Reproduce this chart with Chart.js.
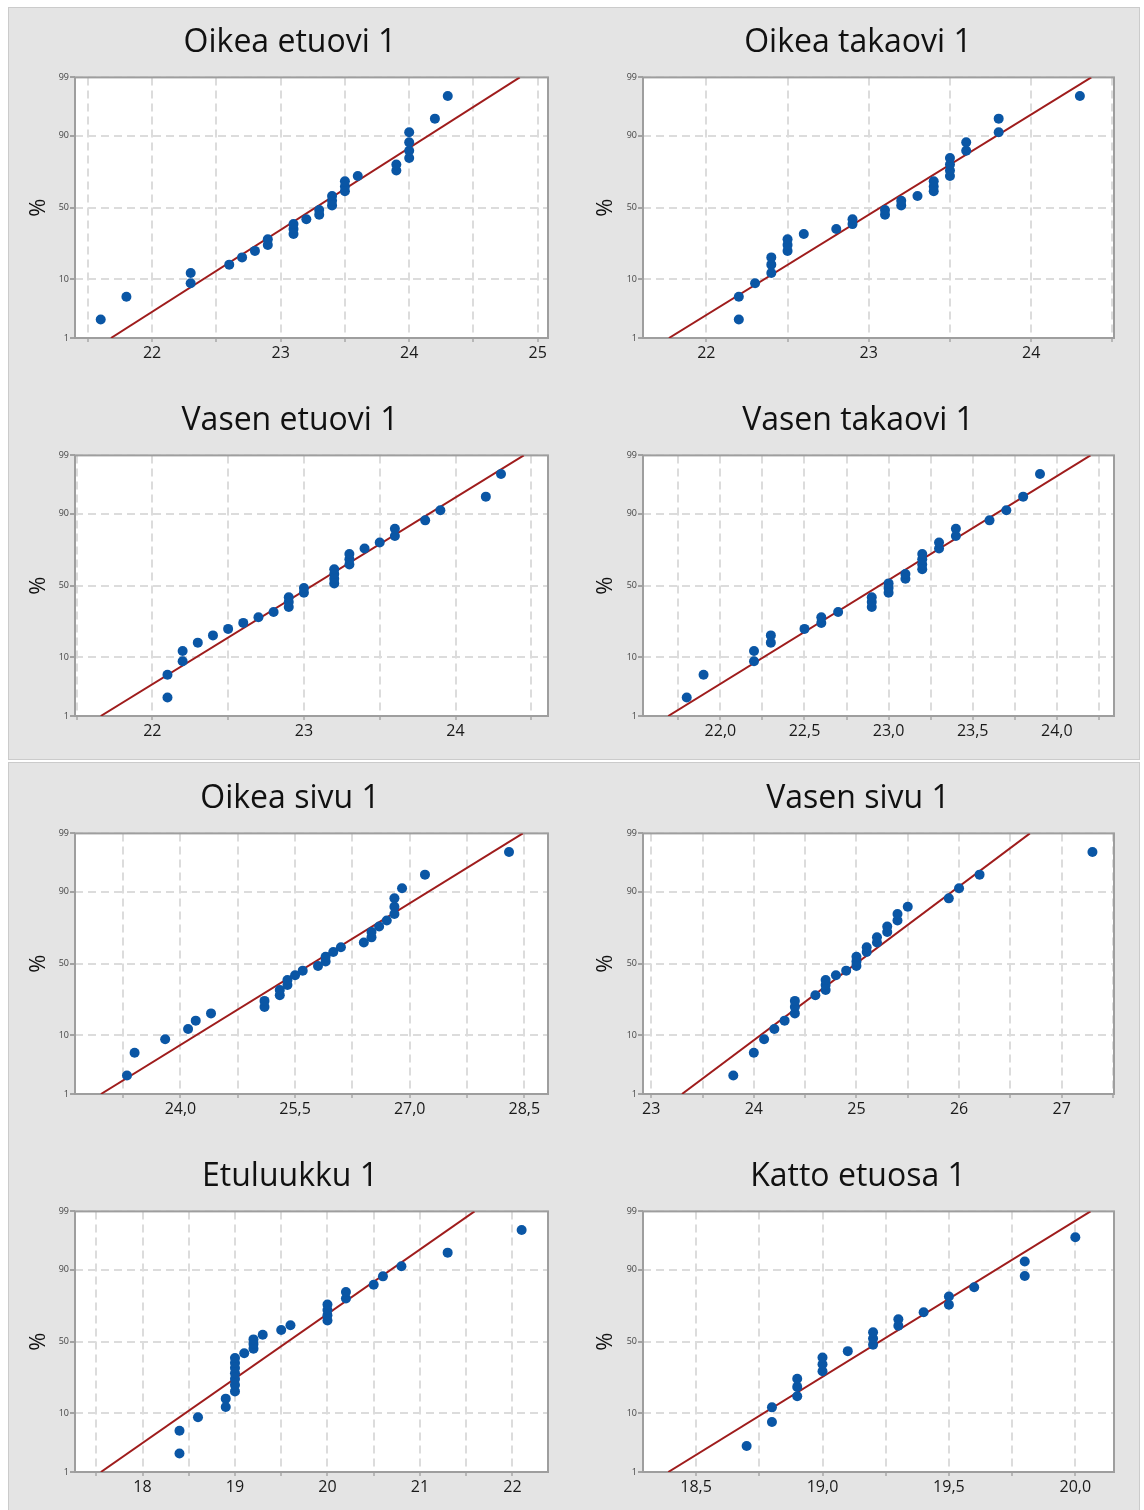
<!DOCTYPE html>
<html>
<head>
<meta charset="utf-8">
<script src="https://cdn.jsdelivr.net/npm/chart.js@4.4.1/dist/chart.umd.min.js"></script>
<style>
  body { margin: 0; background: #fff; width: 1144px; height: 1510px; position: relative; overflow: hidden; }
  .panel { position: absolute; left: 8px; width: 1132px; background: #e4e4e4; border: 1px solid #cbcbcb; box-sizing: border-box; }
  canvas { position: absolute; }
</style>
</head>
<body>
<div class="panel" style="top:7px;height:753px"></div>
<div class="panel" style="top:762px;height:760px"></div>
<script>
const titles = ['Oikea etuovi 1', 'Oikea takaovi 1', 'Vasen etuovi 1', 'Vasen takaovi 1',
  'Oikea sivu 1', 'Vasen sivu 1', 'Etuluukku 1', 'Katto etuosa 1'];

// plotting positions (%) of the sorted measurements, 30 and 22 samples
const pct30 = [2.30, 5.59, 8.88, 12.17, 15.46, 18.75, 22.04, 25.33, 28.62, 31.91,
  35.20, 38.49, 41.78, 45.07, 48.36, 51.64, 54.93, 58.22, 61.51, 64.80,
  68.09, 71.38, 74.67, 77.96, 81.25, 84.54, 87.83, 91.12, 94.41, 97.70];
const pct22 = [3.13, 7.59, 12.05, 16.52, 20.98, 25.45, 29.91, 34.38, 38.84, 43.30, 47.77,
  52.23, 56.70, 61.16, 65.63, 70.09, 74.55, 79.02, 83.48, 87.95, 92.41, 96.88];

const oikeaEtuovi = [21.6, 21.8, 22.3, 22.3, 22.6, 22.7, 22.8, 22.9, 22.9, 23.1, 23.1, 23.1, 23.2, 23.3, 23.3,
  23.4, 23.4, 23.4, 23.5, 23.5, 23.5, 23.6, 23.9, 23.9, 24.0, 24.0, 24.0, 24.0, 24.2, 24.3];
const oikeaTakaovi = [22.2, 22.2, 22.3, 22.4, 22.4, 22.4, 22.5, 22.5, 22.5, 22.6, 22.8, 22.9, 22.9, 23.1, 23.1,
  23.2, 23.2, 23.3, 23.4, 23.4, 23.4, 23.5, 23.5, 23.5, 23.5, 23.6, 23.6, 23.8, 23.8, 24.3];
const vasenEtuovi = [22.1, 22.1, 22.2, 22.2, 22.3, 22.4, 22.5, 22.6, 22.7, 22.8, 22.9, 22.9, 22.9, 23.0, 23.0,
  23.2, 23.2, 23.2, 23.2, 23.3, 23.3, 23.3, 23.4, 23.5, 23.6, 23.6, 23.8, 23.9, 24.2, 24.3];
const vasenTakaovi = [21.8, 21.9, 22.2, 22.2, 22.3, 22.3, 22.5, 22.6, 22.6, 22.7, 22.9, 22.9, 22.9, 23.0, 23.0,
  23.0, 23.1, 23.1, 23.2, 23.2, 23.2, 23.2, 23.3, 23.3, 23.4, 23.4, 23.6, 23.7, 23.8, 23.9];
const oikeaSivu = [23.3, 23.4, 23.8, 24.1, 24.2, 24.4, 25.1, 25.1, 25.3, 25.3, 25.4, 25.4, 25.5, 25.6, 25.8,
  25.9, 25.9, 26.0, 26.1, 26.4, 26.5, 26.5, 26.6, 26.7, 26.8, 26.8, 26.8, 26.9, 27.2, 28.3];
const vasenSivu = [23.8, 24.0, 24.1, 24.2, 24.3, 24.4, 24.4, 24.4, 24.6, 24.7, 24.7, 24.7, 24.8, 24.9, 25.0,
  25.0, 25.0, 25.1, 25.1, 25.2, 25.2, 25.3, 25.3, 25.4, 25.4, 25.5, 25.9, 26.0, 26.2, 27.3];
const etuluukku = [18.4, 18.4, 18.6, 18.9, 18.9, 19.0, 19.0, 19.0, 19.0, 19.0, 19.0, 19.0, 19.1, 19.2, 19.2,
  19.2, 19.3, 19.5, 19.6, 20.0, 20.0, 20.0, 20.0, 20.2, 20.2, 20.5, 20.6, 20.8, 21.3, 22.1];
const kattoEtuosa = [18.7, 18.8, 18.8, 18.9, 18.9, 18.9, 19.0, 19.0, 19.0, 19.1, 19.2,
  19.2, 19.2, 19.3, 19.3, 19.4, 19.5, 19.5, 19.6, 19.8, 19.8, 20.0];

const samples = [oikeaEtuovi, oikeaTakaovi, vasenEtuovi, vasenTakaovi, oikeaSivu, vasenSivu, etuluukku, kattoEtuosa];
const positions = [pct30, pct30, pct30, pct30, pct30, pct30, pct30, pct22];

// fitted normal line: x at the 1 % and 99 % levels
const fitLow = [21.68, 21.77, 21.66, 21.69, 22.96, 23.30, 17.55, 18.39];
const fitHigh = [24.86, 24.37, 24.45, 24.20, 28.48, 26.69, 21.59, 20.06];

// x axes
const xMin = [21.40, 21.61, 21.49, 21.54, 22.62, 22.92, 17.27, 18.29];
const xMax = [25.08, 24.51, 24.61, 24.34, 28.81, 27.51, 22.385, 20.153];
const gridStep = [0.5, 0.5, 0.5, 0.25, 0.75, 0.5, 0.5, 0.25];
const xLabels = [[22, 23, 24, 25], [22, 23, 24], [22, 23, 24], [22, 22.5, 23, 23.5, 24],
  [24, 25.5, 27, 28.5], [23, 24, 25, 26, 27], [18, 19, 20, 21, 22], [18.5, 19, 19.5, 20]];
const xDecimals = [0, 0, 0, 1, 1, 0, 0, 1];

// probability axis
const yTicks = [1, 10, 50, 90, 99];

// inverse of the standard normal cdf (Acklam)
function probit(p) {
  const a = [-39.69683028665376, 220.9460984245205, -275.9285104469687, 138.3577518672690, -30.66479806614716, 2.506628277459239];
  const b = [-54.47609879822406, 161.5858368580409, -155.6989798598866, 66.80131188771972, -13.28068155288572];
  const c = [-0.007784894002430293, -0.3223964580411365, -2.400758277161838, -2.549732539343734, 4.374664141464968, 2.938163982698783];
  const d = [0.007784695709041462, 0.3224671290700398, 2.445134137142996, 3.754408661907416];
  const lo = 0.02425;
  if (p < lo) {
    const q = Math.sqrt(-2 * Math.log(p));
    return (((((c[0] * q + c[1]) * q + c[2]) * q + c[3]) * q + c[4]) * q + c[5]) / ((((d[0] * q + d[1]) * q + d[2]) * q + d[3]) * q + 1);
  }
  if (p > 1 - lo) return -probit(1 - p);
  const q = p - 0.5, r = q * q;
  return (((((a[0] * r + a[1]) * r + a[2]) * r + a[3]) * r + a[4]) * r + a[5]) * q /
    (((((b[0] * r + b[1]) * r + b[2]) * r + b[3]) * r + b[4]) * r + 1);
}

const fmt = (v, dec) => v.toFixed(dec).replace('.', ',');

// white plot area with a grey frame
const frame = {
  id: 'frame',
  beforeDraw(chart) {
    const { ctx, chartArea: a } = chart;
    ctx.save();
    ctx.fillStyle = '#fff';
    ctx.fillRect(a.left, a.top, a.right - a.left, a.bottom - a.top);
    ctx.restore();
  },
  beforeDatasetsDraw(chart) {
    const { ctx, chartArea: a } = chart;
    ctx.save();
    ctx.strokeStyle = '#9e9e9e';
    ctx.lineWidth = 2;
    ctx.strokeRect(a.left, a.top, a.right - a.left, a.bottom - a.top);
    ctx.restore();
  }
};

Chart.defaults.font.family = '"Open Sans", sans-serif';
const rowTop = [7, 385, 763, 1141];
const zLow = probit(0.01), zHigh = probit(0.99);

titles.forEach((title, i) => {
  const col = i % 2, row = Math.floor(i / 2);
  // equal side padding keeps the title centred on the cell
  const side = col ? 26 : 24;
  const canvas = document.createElement('canvas');
  canvas.width = 564;
  canvas.height = 378;
  canvas.style.left = (col ? 576 : 8) + 'px';
  canvas.style.top = rowTop[row] + 'px';
  document.body.appendChild(canvas);

  const points = samples[i].map((x, k) => ({ x: x, y: probit(positions[i][k] / 100) }));
  const labels = xLabels[i];

  new Chart(canvas, {
    type: 'scatter',
    data: {
      datasets: [
        {
          data: [{ x: fitLow[i], y: zLow }, { x: fitHigh[i], y: zHigh }],
          showLine: true,
          borderColor: '#9f1c1c',
          borderWidth: 2,
          pointRadius: 0,
          order: 2
        },
        {
          data: points,
          backgroundColor: '#0a56a5',
          borderWidth: 0,
          pointRadius: 5,
          pointHoverRadius: 5,
          order: 1
        }
      ]
    },
    options: {
      responsive: false,
      animation: false,
      devicePixelRatio: 1,
      events: [],
      layout: { padding: { left: side, top: 0, bottom: 0, right: side } },
      plugins: {
        legend: { display: false },
        tooltip: { enabled: false },
        title: {
          display: true,
          text: title,
          color: '#111',
          font: { size: 32, weight: 'normal' },
          padding: { top: 17, bottom: 15 }
        }
      },
      scales: {
        x: {
          type: 'linear',
          min: xMin[i],
          max: xMax[i],
          afterFit: s => { s.height = 47; },
          afterBuildTicks: s => {
            const step = gridStep[i];
            const ticks = [];
            for (let v = Math.ceil(xMin[i] / step - 1e-9) * step; v <= xMax[i] + 1e-9; v += step) {
              ticks.push({ value: Math.round(v * 1000) / 1000 });
            }
            s.ticks = ticks;
          },
          ticks: {
            autoSkip: false,
            maxRotation: 0,
            minRotation: 0,
            padding: 2,
            color: '#1a1a1a',
            font: { size: 16 },
            callback: v => {
              const hit = labels.find(l => Math.abs(l - v) < 1e-6);
              return hit === undefined ? '' : fmt(hit, xDecimals[i]);
            }
          },
          grid: { color: '#dcdcdc', lineWidth: 2, tickLength: 4, tickColor: '#a8a8a8', tickWidth: 1.5 },
          border: { display: false, dash: [8, 5] }
        },
        y: {
          type: 'linear',
          min: zLow,
          max: zHigh,
          afterFit: s => { s.width = 67 - side; },
          afterBuildTicks: s => {
            s.ticks = yTicks.map(p => ({ value: probit(p / 100) }));
          },
          ticks: {
            padding: 1,
            color: '#444',
            font: { size: 9 },
            callback: (v, k) => String(yTicks[k])
          },
          grid: { color: '#dcdcdc', lineWidth: 2, tickLength: 5, tickColor: '#8c8c8c', tickWidth: 1.5 },
          border: { display: false, dash: [8, 5] },
          title: {
            display: true,
            text: '%',
            color: '#111',
            font: { size: 22 },
            padding: { top: col ? -9 : -6, bottom: 0 }
          }
        }
      }
    },
    plugins: [frame]
  });
});
</script>
</body>
</html>
